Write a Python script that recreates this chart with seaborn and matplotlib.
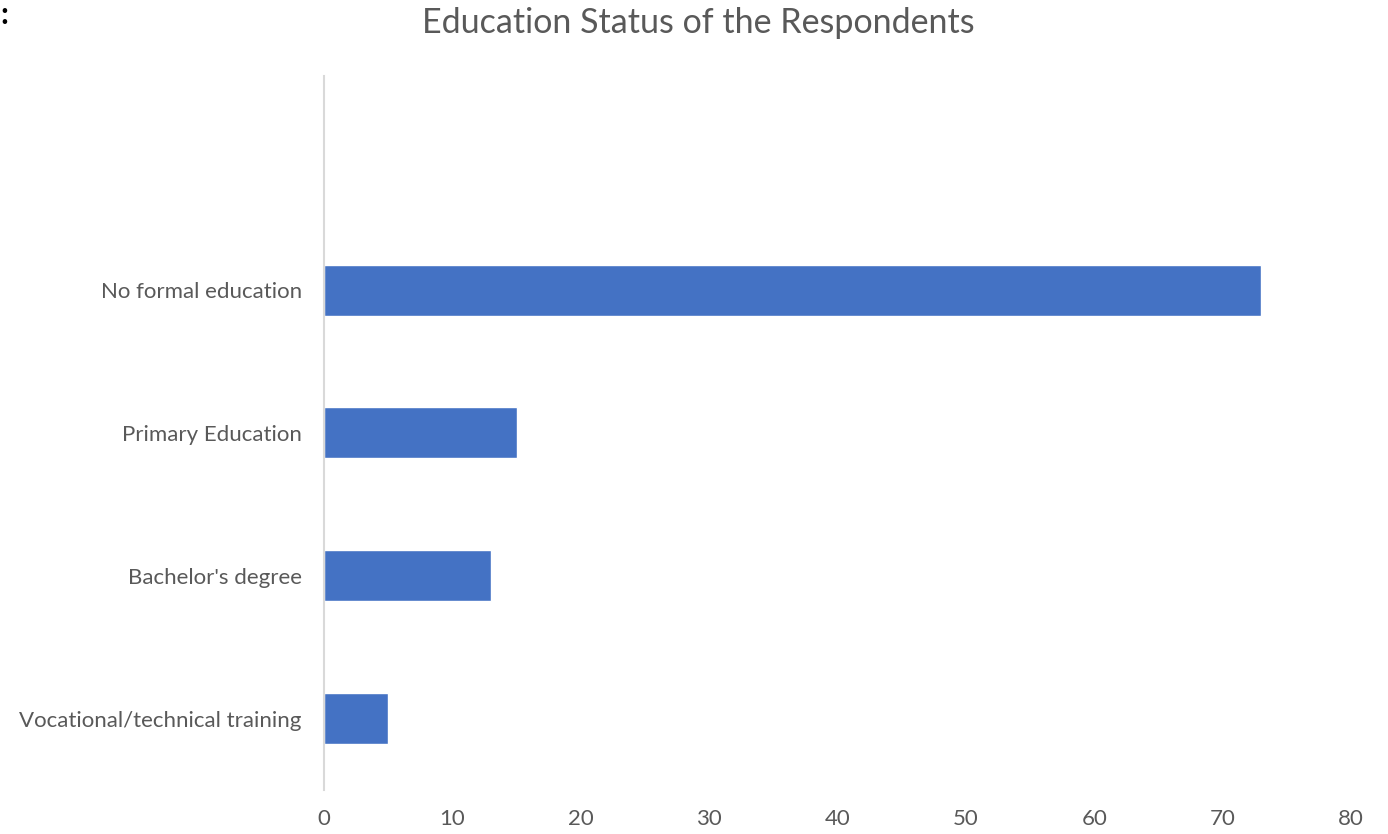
import matplotlib
matplotlib.use("Agg")
import matplotlib.pyplot as plt
import seaborn as sns
import pandas as pd

categories = ["No formal education", "Primary Education", "Bachelor's degree", "Vocational/technical training"]
values = [73, 15, 13, 5]
xticks = [0, 10, 20, 30, 40, 50, 60, 70, 80]
title = "Education Status of the Respondents"

sns.set_theme(style="white")
plt.rcParams['font.family'] = ['Lato', 'DejaVu Sans']

df = pd.DataFrame({"cat": categories, "val": values})
fig = plt.figure(figsize=(13.88, 8.34), dpi=100)
ax = fig.add_axes([0.2334, 0.0528, 0.9733 - 0.2334, 0.9089 - 0.0528])
sns.barplot(data=df, x="val", y="cat", order=categories, color="#4472C4",
            saturation=1, width=0.357, ax=ax)
ax.set_ylim(3.5, -1.5)
ax.set_xlim(0, 80)
ax.set_xticks(xticks)
ax.set_xlabel("")
ax.set_ylabel("")
for s in ["top", "right", "bottom"]:
    ax.spines[s].set_visible(False)
ax.spines["left"].set_color("#D9D9D9")
ax.spines["left"].set_linewidth(1.5)
ax.tick_params(axis="x", length=0, pad=14, labelsize=16, labelcolor="#595959")
ax.tick_params(axis="y", length=0, pad=16, labelsize=16, labelcolor="#595959")
fig.text(0.503, 0.972, title, ha="center", va="center", fontsize=24.5, color="#595959")
fig.text(0.0, 0.999, ":", ha="left", va="top", fontsize=22, color="black", fontweight="bold")
fig.savefig("out.png", dpi=100)
